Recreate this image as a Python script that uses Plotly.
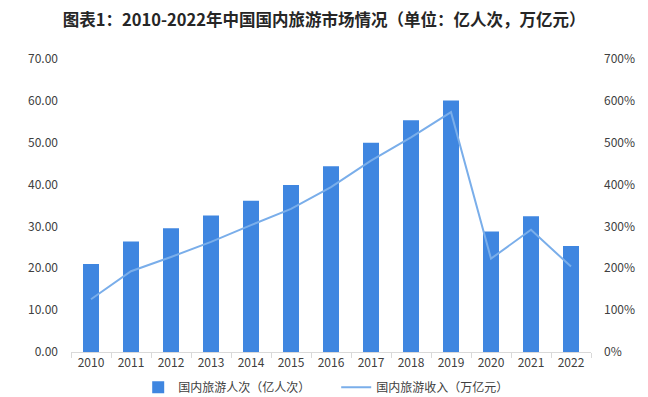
import plotly.graph_objects as go

years = ["2010", "2011", "2012", "2013", "2014", "2015", "2016",
         "2017", "2018", "2019", "2020", "2021", "2022"]
tourists = [21.03, 26.41, 29.57, 32.62, 36.11, 39.90, 44.35,
            50.01, 55.39, 60.06, 28.79, 32.46, 25.30]
revenue = [1.26, 1.93, 2.27, 2.63, 3.03, 3.42, 3.94,
           4.57, 5.13, 5.73, 2.23, 2.92, 2.04]

left_ticks = [0, 10, 20, 30, 40, 50, 60, 70]
left_labels = ["0.00", "10.00", "20.00", "30.00", "40.00", "50.00", "60.00", "70.00"]
right_ticks = [0, 1, 2, 3, 4, 5, 6, 7]
right_labels = ["0%", "100%", "200%", "300%", "400%", "500%", "600%", "700%"]

title = "图表1：2010-2022年中国国内旅游市场情况（单位：亿人次，万亿元）"
name_bar = "国内旅游人次（亿人次）"
name_line = "国内旅游收入（万亿元）"

font_family = "Noto Sans CJK SC, Noto Sans, sans-serif"

fig = go.Figure()
fig.add_trace(go.Bar(x=years, y=tourists, name=name_bar,
                     marker=dict(color="#3f86e0", line=dict(width=0))))
fig.add_trace(go.Scatter(x=years, y=revenue, name=name_line, yaxis="y2",
                         mode="lines", line=dict(color="#7aaeea", width=2)))

# page body adds an 8px offset; figure sized to fit the window
fig.update_layout(
    width=640, height=389,
    margin=dict(l=63, r=57, t=51, b=45, autoexpand=False),
    paper_bgcolor="white", plot_bgcolor="white",
    font=dict(family=font_family, size=12, color="#404040"),
    title=dict(text="<b>" + title + "</b>", x=0.494, xanchor="center",
               y=0.968, yanchor="middle",
               font=dict(size=16.5, color="#262626", family=font_family)),
    bargap=0.6,
    showlegend=True,
    legend=dict(orientation="h", x=0.51, xanchor="center",
                yref="container", y=0.025, yanchor="middle",
                font=dict(size=12, color="#404040"), itemwidth=30,
                entrywidth=153, bgcolor="rgba(0,0,0,0)"),
    xaxis=dict(type="category", showgrid=False, showline=True,
               linecolor="#d9d9d9", linewidth=1,
               ticks="outside", tickson="boundaries", ticklen=5,
               tickcolor="#d9d9d9", tickfont=dict(size=12, color="#404040")),
    yaxis=dict(range=[0, 70], tickvals=left_ticks, ticktext=left_labels,
               showgrid=False, zeroline=False, showline=False,
               ticks="", ticklabelstandoff=12,
               tickfont=dict(size=12, color="#404040")),
    yaxis2=dict(range=[0, 7], tickvals=right_ticks, ticktext=right_labels,
                overlaying="y", side="right", showgrid=False, zeroline=False,
                showline=False, ticks="", ticklabelstandoff=12,
                tickfont=dict(size=12, color="#404040")),
)

fig.write_html("out.html")
